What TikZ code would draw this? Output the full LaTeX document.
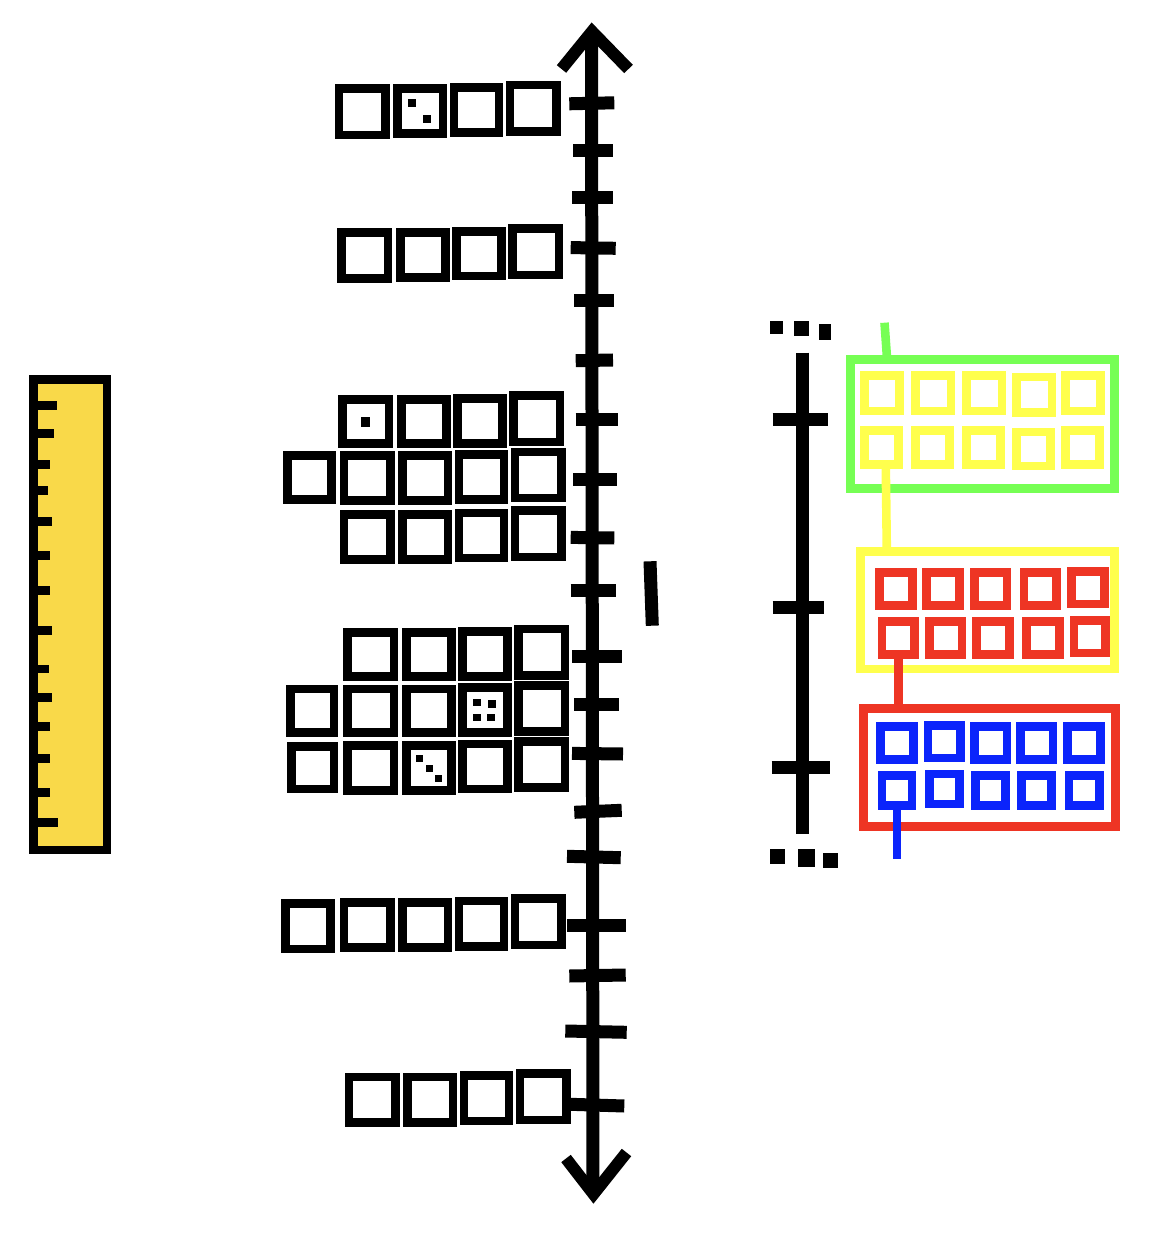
\documentclass[tikz,border=0pt]{standalone}
\definecolor{rulerY}{HTML}{F9D949}
\definecolor{levelG}{HTML}{76FF54}
\definecolor{levelY}{HTML}{FFFF4D}
\definecolor{levelR}{HTML}{EE3524}
\definecolor{levelB}{HTML}{0B24FB}
\tikzset{
  axisline/.style={draw=black, line width=6.5pt},
  arrowhead/.style={draw=black, line width=6pt, line join=miter},
  cell/.style={draw=#1, line width=4.3pt},
  levelbox/.style={draw=#1, line width=4.4pt},
  link/.style={draw=#1, line width=4.3pt},
  speck/.style={fill=black},
  mark tick/.style={draw=black, line width=4.35pt},
}
\begin{document}
\begin{tikzpicture}[x=0.5pt, y=-0.5pt]
  \useasboundingbox (0,0) rectangle (1148,1234);

  % ruler
  \draw[cell=black, fill=rulerY] (33.3,379.3) rectangle (107,850);
  \foreach \tx/\ty in {56.7/405.7, 54/433.3, 50.3/464.3, 47.7/490.7, 51.7/521.7, 50.3/555.3, 50.3/590.3,
                       51.7/630.3, 49/669, 51.7/697.7, 50.3/726.3, 50.3/758.7, 50.3/792.7, 57.7/822.7}
    \draw[mark tick] (37,\ty) -- (\tx,\ty);

  % main axis
  \draw[axisline] (591.5,32) -- (593,1194);
  \draw[arrowhead] (561.5,69) -- (592,31.5) -- (628.5,69);
  \draw[arrowhead] (566,1158.5) -- (593.5,1194) -- (626.5,1152.5);
  \foreach \xa/\ya/\xb/\yb in {569.3/103.8/614.3/102.8, 573.3/151/613.3/151, 572/197.3/613.3/197.3,
      570.7/247.6/615.7/248.3, 574.3/300.7/614.3/300.7, 575.7/360.7/613/360, 575.7/419.3/618.3/419.3,
      573/479.3/616.7/479.3, 570.7/537.4/614.3/538, 570.7/590.7/615.7/590.7, 572/656.7/621.7/656.7,
      574.3/704/619.3/704, 572/753.4/623/754, 574.3/812.3/621.7/810.3, 567/856.3/620.7/857.7,
      567/925/625.7/925, 569.3/976/625.7/975, 565.3/1031/626.7/1032.3, 570.7/1104.3/624.3/1106}
    \draw[axisline] (\xa,\ya) -- (\xb,\yb);
  \draw[axisline] (650,561.3) -- (652.3,625.7);

  % black cells
  \foreach \xa/\ya/\xb/\yb in {
      334.7/84.3/389.7/139.3, 393.3/84.3/447.3/138, 449.7/83.3/503.3/137, 505.7/80.7/560.7/135.7,
      337.3/228.3/392.3/283, 396/228.3/449.7/281.7, 452/227/505.7/280.3, 508.3/224.3/563.3/279.3,
      338.3/395/393.3/447.7, 397.3/395/451/447.7, 453.3/394/507/447.7, 509.3/391.3/564.3/446.3,
      283.3/451.3/336/503.7, 339.7/451.3/394.7/505, 398.3/451.3/452.3/505, 454.7/450/508.3/503.7, 510.7/447.7/565.7/502.3,
      339.7/510/394.7/563.7, 398.3/510/452.3/563.7, 454.7/508.7/508.3/562.3, 510.7/506.3/565.7/561.3,
      343.3/628.3/398.3/681, 402.3/628.3/456/681, 458.3/627.3/512/681, 514.3/624.7/569.3/679.7,
      286/684.7/338.3/737, 343.3/684.7/398.3/737, 402.3/684.7/456/737, 458.3/683.3/512/737, 514.3/681/569.3/735.7,
      287.3/742.3/338.3/793.3, 343.3/741/398.3/794.7, 402.3/741/456/794.7, 458.3/739.7/512/793.3, 514.3/737/569.3/792,
      281/899.3/335/953.3, 339.7/898/394.7/952, 398.3/898/452.3/952, 454.7/896.7/508.3/950.7, 510.7/894.3/565.7/949.3,
      344.7/1072.7/399.7/1126.7, 403.3/1072.7/457.3/1126.7, 459.7/1071.3/513.3/1125.3, 515.7/1069/570.7/1124.3}
    \draw[cell=black] (\xa+4.3,\ya+4.3) rectangle (\xb-4.3,\yb-4.3);

  % specks inside cells and the dotted ends of the scale
  \foreach \xa/\ya/\xb/\yb in {
      408.3/99.3/416/107, 423.3/115.3/431/123.3, 360.7/417.3/370/426.7,
      473.3/698.7/481/706.3, 488.3/700/496/707.7, 473.3/713.7/481/721.3, 487/713.7/494.7/721.3,
      415.7/754.7/423.3/762.3, 425.7/764.7/433.3/772.3, 434.7/774.7/442.3/782.3,
      770/321.3/782.7/334, 794.3/321.3/809/336.3, 819/324/831.3/340.3,
      770.3/849.3/785.3/864.3, 797.7/849.3/815.3/867, 822.7/853.3/837.7/868.3}
    \fill[speck] (\xa,\ya) rectangle (\xb,\yb);

  % second scale
  \draw[axisline] (802,352.7) -- (802,834.3);
  \draw[axisline] (772.7,419.3) -- (827.7,419.3);
  \draw[axisline] (772.7,607.7) -- (824,607.7);
  \draw[axisline] (771.7,767.7) -- (830.3,767.7);

  % green level
  \draw[link=levelG] (884.5,322.7) -- (887,358);
  \draw[levelbox=levelG] (850.7,359.4) rectangle (1114.3,488.3);
  \foreach \xa/\ya/\xb/\yb in {
      860/371.3/904/415.3, 911.3/371.3/955.3/415.3, 962.3/371.3/1006.3/415.3, 1012.3/372.7/1056.3/416.7, 1061/371.3/1105/415.3,
      860/426.3/902.7/469, 911.3/426.3/954/469, 962.3/426.3/1005/469, 1012.3/427.7/1055/470.3, 1061/426.3/1103.7/469}
    \draw[cell=levelY] (\xa+4.4,\ya+4.4) rectangle (\xb-4.4,\yb-4.4);

  % yellow level
  \draw[link=levelY] (885.8,469) -- (886.8,550);
  \draw[levelbox=levelY] (860.7,551.7) rectangle (1114.3,668.9);
  \foreach \xa/\ya/\xb/\yb in {
      875/568.3/916.7/609.7, 922.3/568.3/963.7/609.7, 970/568.3/1011.3/609.7, 1019.7/568.3/1061/609.7, 1067/567/1108.7/608.3,
      877.7/617.3/919/658.7, 925/617.3/966.3/658.7, 972.3/617.3/1013.7/658.7, 1022.3/617.3/1063.7/658.7, 1069.7/616/1110/657.3}
    \draw[cell=levelR] (\xa+4.4,\ya+4.4) rectangle (\xb-4.4,\yb-4.4);

  % red level
  \draw[link=levelR] (898.3,658.7) -- (898.3,706);
  \draw[levelbox=levelR] (863.4,708.1) rectangle (1115.6,826.3);
  \foreach \xa/\ya/\xb/\yb in {
      876.3/722.3/917.7/763.7, 923.7/721/965/762.3, 970/722.3/1011.3/763.7, 1016/722.3/1057.3/763.7, 1063.3/722.3/1105/763.7,
      877.7/771/916.3/809.7, 925/769.7/963.7/808.3, 971.3/771/1010/809.7, 1017.3/771/1056/809.7, 1064.7/771/1103.7/809.7}
    \draw[cell=levelB] (\xa+4.4,\ya+4.4) rectangle (\xb-4.4,\yb-4.4);
  \draw[link=levelB] (897,809.7) -- (897,859.3);
\end{tikzpicture}
\end{document}
